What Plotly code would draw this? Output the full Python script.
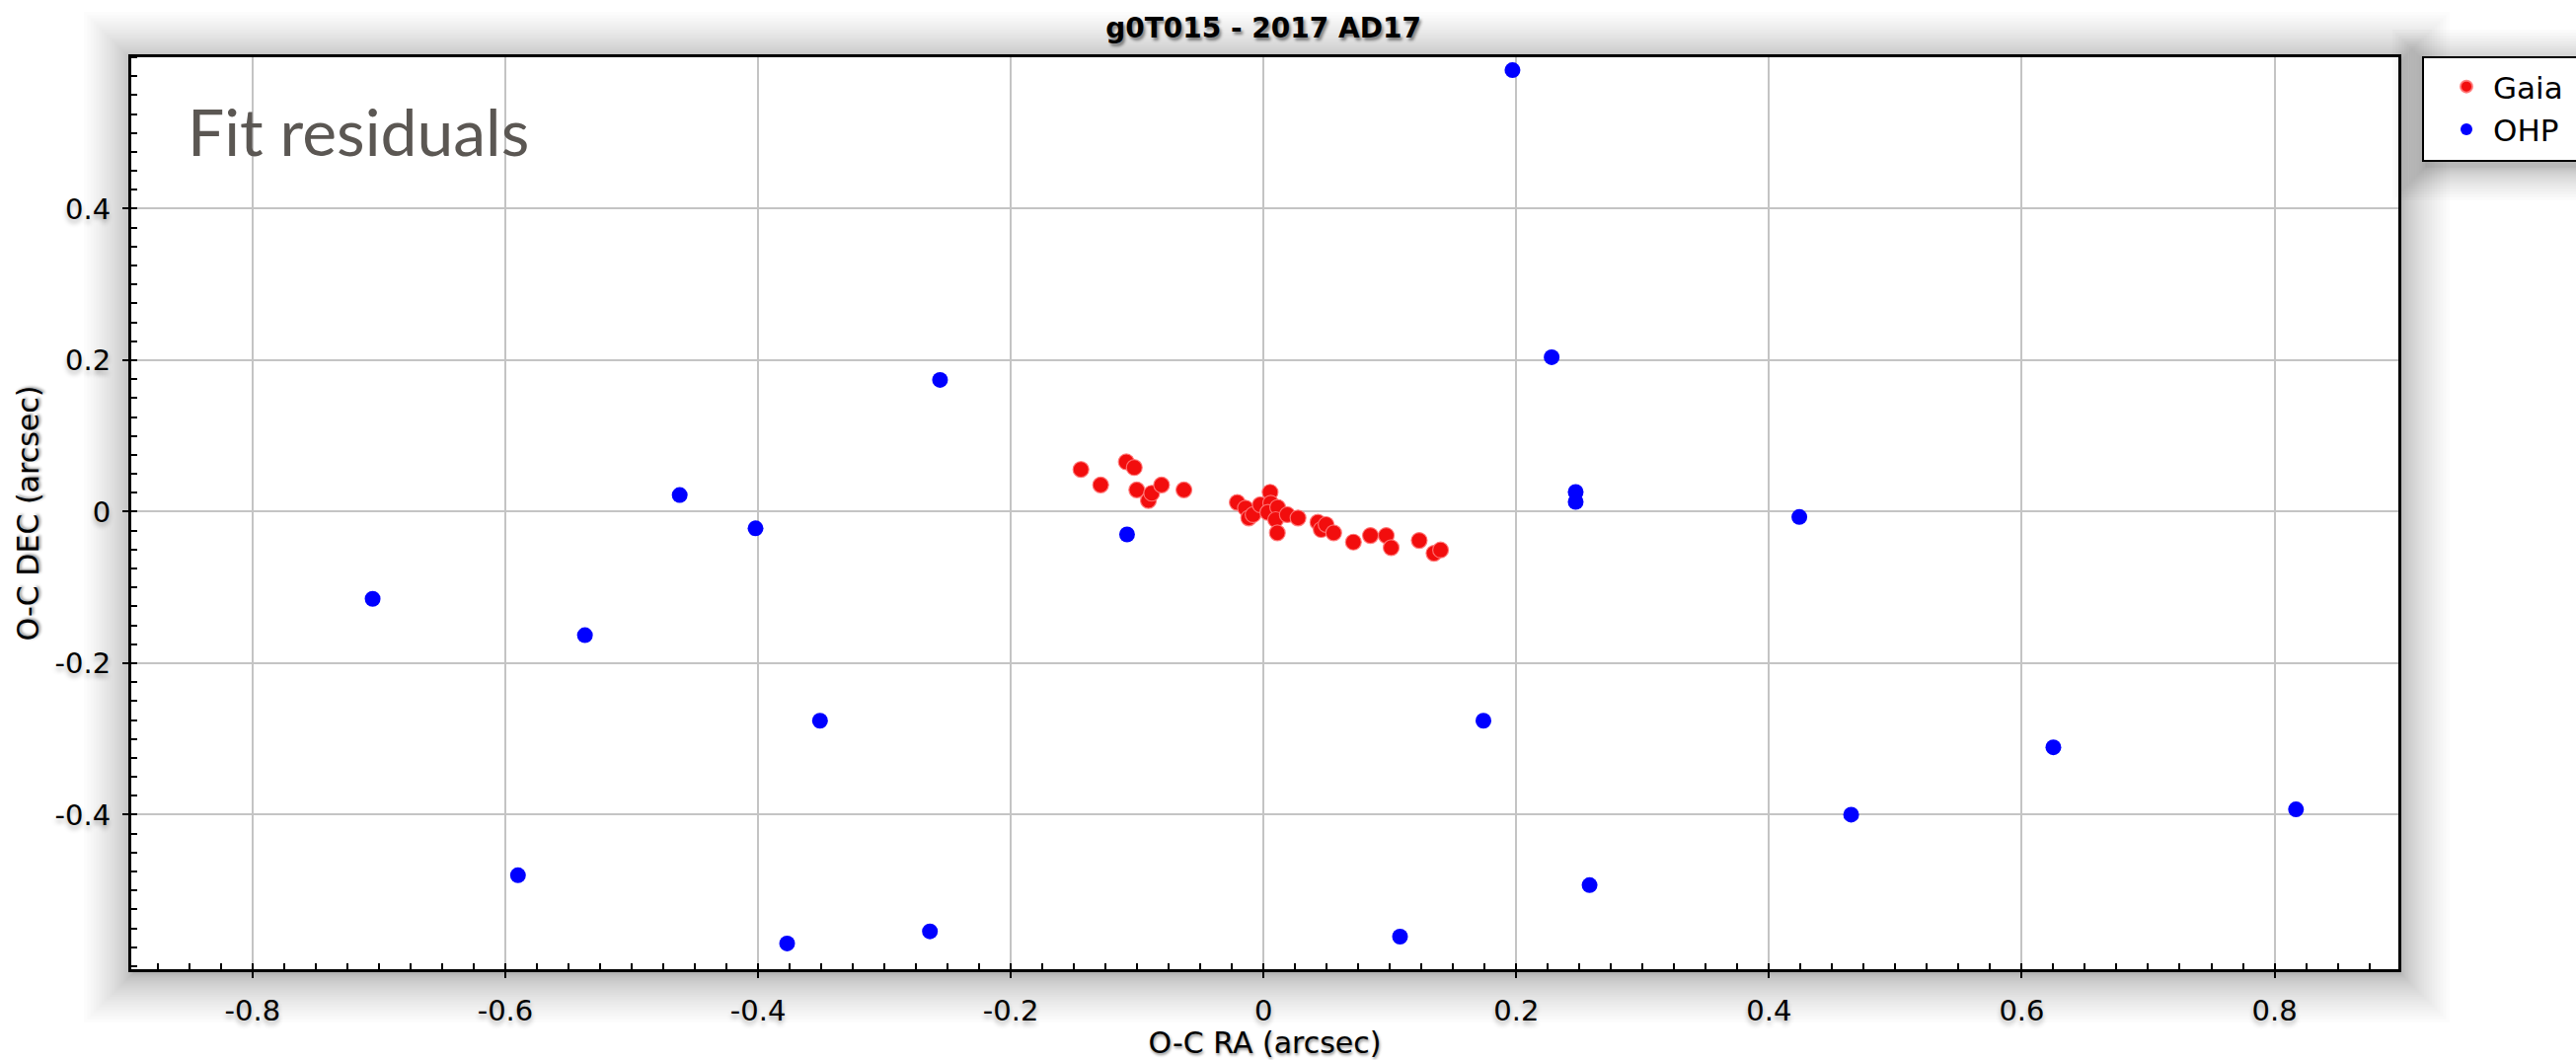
import plotly.graph_objects as go

# Residuals (observed - computed), arcsec
gaia_ra = [-0.1445, -0.1289, -0.1086, -0.1023, -0.1003, -0.0911, -0.0885, -0.0807, -0.0630,
           -0.0208, -0.0143, -0.0117, -0.0083, -0.0026, 0.0052, 0.0057, 0.0034, 0.0112,
           0.0096, 0.0109, 0.0188, 0.0273, 0.0430, 0.0456, 0.0495, 0.0555, 0.0711,
           0.0846, 0.0971, 0.1010, 0.1232, 0.1349, 0.1401]
gaia_dec = [0.0558, 0.0353, 0.0658, 0.0584, 0.0288, 0.0148, 0.0244, 0.0353, 0.0288,
            0.0122, 0.0048, -0.0083, -0.0039, 0.0092, 0.0257, 0.0113, -0.0009, 0.0057,
            -0.0105, -0.0279, -0.0039, -0.0083, -0.0139, -0.0235, -0.0170, -0.0279, -0.0401,
            -0.0314, -0.0314, -0.0475, -0.0379, -0.0549, -0.0505]

ohp_ra = [0.197, -0.256, 0.228, -0.462, -0.402, -0.108, 0.247, 0.247, 0.424, -0.705,
          -0.537, -0.351, 0.174, 0.625, 0.465, 0.817, -0.590, 0.258, -0.264, -0.377, 0.108]
ohp_dec = [0.583, 0.174, 0.204, 0.022, -0.022, -0.030, 0.026, 0.013, -0.007, -0.115,
           -0.163, -0.276, -0.276, -0.311, -0.400, -0.393, -0.480, -0.493, -0.554, -0.570, -0.561]

x_ticks = [-0.8, -0.6, -0.4, -0.2, 0, 0.2, 0.4, 0.6, 0.8]
x_tick_text = ["-0.8", "-0.6", "-0.4", "-0.2", "0", "0.2", "0.4", "0.6", "0.8"]
y_ticks = [-0.4, -0.2, 0, 0.2, 0.4]
y_tick_text = ["-0.4", "-0.2", "0", "0.2", "0.4"]

W, H = 2610, 1074
PL, PR, PT, PB = 133, 2430, 58, 982   # plot area in pixels
LEG_L, LEG_R, LEG_T, LEG_B = 2455, 2700, 58, 163   # legend frame in pixels


def px_x(p):
    return (p - PL) / (PR - PL)


def px_y(p):
    return (PB - p) / (PB - PT)


def soft_shadow(shapes, x0, y0, x1, y1, dx=2, dy=4, steps=26, reach=50, alpha=0.011, power=1.7):
    # stacked translucent rectangles: darkest at the box edge, fading outwards
    for i in range(steps, 0, -1):
        e = reach * (i / steps) ** power
        shapes.append(dict(
            type="rect", xref="paper", yref="paper", layer="below",
            x0=px_x(x0 - e + dx), x1=px_x(x1 + e + dx),
            y0=px_y(y1 + e + dy), y1=px_y(y0 - e + dy),
            line=dict(width=0), fillcolor=f"rgba(0,0,0,{alpha})"))


shapes = []
soft_shadow(shapes, PL, PT, PR, PB)
shapes.append(dict(type="rect", xref="paper", yref="paper", layer="below",
                   x0=0, x1=1, y0=0, y1=1, line=dict(width=0), fillcolor="white"))
soft_shadow(shapes, LEG_L, LEG_T, LEG_R, LEG_B, dx=3, dy=6, steps=18, reach=34, alpha=0.014)
shapes.append(dict(type="rect", xref="paper", yref="paper", layer="below",
                   x0=px_x(LEG_L), x1=px_x(LEG_R), y0=px_y(LEG_B), y1=px_y(LEG_T),
                   line=dict(color="black", width=2), fillcolor="white"))

fig = go.Figure()
fig.add_trace(go.Scatter(
    x=gaia_ra, y=gaia_dec, mode="markers", name="Gaia", legendgroup="gaia",
    marker=dict(color="#f20d0d", size=16, symbol="circle",
                line=dict(color="rgba(255,120,120,0.9)", width=1.2))))
fig.add_trace(go.Scatter(
    x=ohp_ra, y=ohp_dec, mode="markers", name="OHP", legendgroup="ohp",
    marker=dict(color="#0000ff", size=16, symbol="circle", line=dict(width=0))))

tick_font = dict(family="DejaVu Sans", size=29, color="black",
                 shadow="0px 4px 5px rgba(0,0,0,0.30)")
title_font = dict(family="DejaVu Sans", size=30, color="black",
                  shadow="1px 2px 3px rgba(0,0,0,0.45)")

axis_common = dict(
    showline=True, linecolor="black", linewidth=3, mirror=True,
    showgrid=True, gridcolor="#c4c4c4", gridwidth=2,
    zeroline=False,
    ticks="outside", ticklen=6, tickwidth=2, tickcolor="black",
    minor=dict(dtick=0.025, ticks="inside", ticklen=6, tickwidth=2,
               tickcolor="black", showgrid=False),
    tickfont=tick_font,
)

fig.update_xaxes(
    range=[-0.896, 0.898], tickmode="array", tickvals=x_ticks, ticktext=x_tick_text,
    title=dict(text="O-C RA (arcsec)", font=title_font, standoff=18),
    ticklabelstandoff=8,
    **axis_common)
fig.update_yaxes(
    range=[-0.604, 0.600], tickmode="array", tickvals=y_ticks, ticktext=y_tick_text,
    title=dict(text="O-C DEC (arcsec)", font=title_font, standoff=8),
    ticklabelstandoff=6,
    **axis_common)

fig.add_annotation(
    text="Fit residuals", xref="paper", yref="paper",
    x=px_x(188), y=px_y(132), xanchor="left", yanchor="middle",
    showarrow=False, font=dict(family="Lato", size=66, color="#5b5753"))

fig.update_layout(
    width=W, height=H,
    margin=dict(l=PL, r=W - PR, t=PT, b=H - PB, autoexpand=False),
    paper_bgcolor="white", plot_bgcolor="white",
    title=dict(text="<b>g0T015 - 2017 AD17</b>", x=1280 / W,
               xanchor="center", y=1 - 28 / H, yanchor="middle", yref="container",
               font=dict(family="DejaVu Sans", size=28, color="black",
                         shadow="2px 3px 3px rgba(0,0,0,0.45)")),
    legend=dict(
        x=px_x(2472), y=px_y(61), xanchor="left", yanchor="top",
        bgcolor="rgba(0,0,0,0)", borderwidth=0,
        font=dict(family="DejaVu Sans", size=31, color="black"),
        itemwidth=44, tracegroupgap=0, itemsizing="constant"),
    shapes=shapes,
    showlegend=True,
)

fig.write_html("out.html")
